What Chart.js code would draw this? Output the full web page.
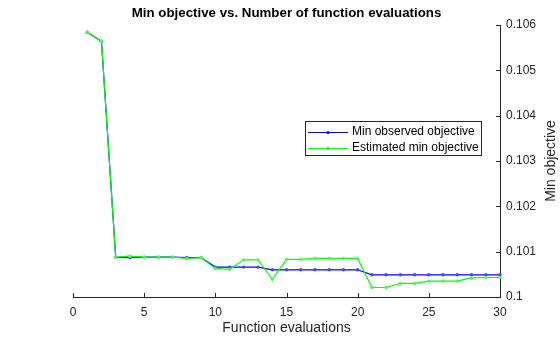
<!DOCTYPE html>
<html>
<head>
<meta charset="utf-8">
<script src="https://cdn.jsdelivr.net/npm/chart.js@4/dist/chart.umd.min.js"></script>
<style>
html,body{margin:0;padding:0;background:#fff;}
#wrap{width:560px;height:337px;}
</style>
</head>
<body>
<div id="wrap"><canvas id="c" width="560" height="337"></canvas></div>
<script>
// ---- data ----
const evaluations = [1,2,3,4,5,6,7,8,9,10,11,12,13,14,15,16,17,18,19,20,21,22,23,24,25,26,27,28,29,30];
const minObserved = [0.10584,0.10564,0.10088,0.10087,0.10088,0.10088,0.10088,0.10087,0.10087,0.10066,
                     0.10066,0.10066,0.10066,0.10060,0.10060,0.10060,0.10060,0.10060,0.10060,0.10060,
                     0.10049,0.10049,0.10049,0.10049,0.10049,0.10049,0.10049,0.10049,0.10049,0.10049];
const estimatedMin = [0.10584,0.10564,0.10088,0.10090,0.10088,0.10088,0.10088,0.10085,0.10087,0.10063,
                      0.10061,0.10082,0.10082,0.10039,0.10083,0.10083,0.10085,0.10085,0.10085,0.10085,
                      0.10021,0.10021,0.10030,0.10030,0.10035,0.10035,0.10035,0.10042,0.10043,0.10043];
const xTicks = [0,5,10,15,20,25,30];
const yTicks = [0.100,0.101,0.102,0.103,0.104,0.105,0.106];
const seriesNames = ['Min observed objective','Estimated min objective'];
const titleText = 'Min objective vs. Number of function evaluations';
const xLabel = 'Function evaluations';
const yLabel = 'Min objective';

const FONT = '"Liberation Sans", Arial, Helvetica, sans-serif';
const AX = '#262626';
const BLUE = '#0000ff';
const GREEN = '#00ff00';

const toPts = (ys) => evaluations.map((x, i) => ({x: x, y: ys[i]}));

const decorPlugin = {
  id: 'decor',
  afterDraw(chart) {
    const ctx = chart.ctx;
    const ca = chart.chartArea;
    const xs = chart.scales.x, ys = chart.scales.y;
    ctx.save();
    // inward ticks
    ctx.strokeStyle = AX;
    ctx.lineWidth = 1;
    ctx.beginPath();
    xs.ticks.forEach(t => {
      const px = Math.round(xs.getPixelForValue(t.value)) + 0.5;
      ctx.moveTo(px, ca.bottom); ctx.lineTo(px, ca.bottom - 4);
    });
    ys.ticks.forEach(t => {
      const py = Math.round(ys.getPixelForValue(t.value)) + 0.5;
      ctx.moveTo(ca.right, py); ctx.lineTo(ca.right - 4, py);
    });
    ctx.stroke();
    // title
    ctx.fillStyle = '#000';
    ctx.font = 'bold 13.3px ' + FONT;
    ctx.textAlign = 'center';
    ctx.textBaseline = 'middle';
    ctx.fillText(titleText, (ca.left + ca.right) / 2, 13.5);
    // y label (reads bottom to top)
    ctx.save();
    ctx.translate(551, (ca.top + ca.bottom) / 2);
    ctx.rotate(-Math.PI / 2);
    ctx.fillStyle = AX;
    ctx.font = '14px ' + FONT;
    ctx.fillText(yLabel, 0, 0);
    ctx.restore();
    // legend
    const lx = 305.5, ly = 121.5, lw = 176, lh = 34;
    ctx.fillStyle = '#fff';
    ctx.fillRect(lx, ly, lw, lh);
    ctx.strokeStyle = AX;
    ctx.strokeRect(lx, ly, lw, lh);
    const cols = [BLUE, GREEN];
    const rows = [ly + 10, ly + 26];
    ctx.font = '12px ' + FONT;
    ctx.textAlign = 'left';
    seriesNames.forEach((name, i) => {
      const y = Math.round(rows[i]) + 0.5;
      ctx.strokeStyle = cols[i];
      ctx.beginPath(); ctx.moveTo(308, y); ctx.lineTo(348, y); ctx.stroke();
      ctx.fillStyle = cols[i];
      ctx.beginPath(); ctx.arc(328, y, 1.6, 0, Math.PI * 2); ctx.fill();
      ctx.fillStyle = '#000';
      ctx.fillText(name, 352, rows[i] + 0.5);
    });
    ctx.restore();
  }
};

new Chart(document.getElementById('c'), {
  type: 'scatter',
  data: {
    datasets: [
      { label: seriesNames[1], data: toPts(estimatedMin), showLine: true, borderColor: GREEN, backgroundColor: GREEN,
        borderWidth: 1.2, pointRadius: 1.7, pointBorderWidth: 0, pointBackgroundColor: '#44ff44', clip: false },
      { label: seriesNames[0], data: toPts(minObserved), showLine: true, borderColor: BLUE, backgroundColor: BLUE,
        borderWidth: 1.2, pointRadius: 1.7, pointBorderWidth: 0, pointBackgroundColor: '#4444ff', clip: false }
    ]
  },
  options: {
    responsive: false,
    devicePixelRatio: 1,
    animation: false,
    layout: { padding: { left: 73, top: 25, right: 0, bottom: 0 } },
    plugins: { legend: { display: false }, tooltip: { enabled: false }, title: { display: false } },
    scales: {
      x: {
        type: 'linear', position: 'bottom', min: 0, max: 30,
        afterBuildTicks: (s) => { s.ticks = xTicks.map(v => ({value: v})); },
        afterFit: (s) => { s.height = 40; },
        grid: { display: false, drawTicks: false },
        border: { display: true, color: AX, width: 1 },
        ticks: { color: AX, font: { family: FONT, size: 12 }, padding: 8, maxRotation: 0,
                 callback: (v) => String(v) },
        title: { display: true, text: xLabel, color: AX, font: { family: FONT, size: 14 }, padding: { top: 0, bottom: 0.5 } }
      },
      y: {
        type: 'linear', position: 'right', min: 0.1, max: 0.106,
        afterBuildTicks: (s) => { s.ticks = yTicks.map(v => ({value: v})); },
        afterFit: (s) => { s.width = 60; },
        grid: { display: false, drawTicks: false },
        border: { display: true, color: AX, width: 1 },
        ticks: { color: AX, font: { family: FONT, size: 12 }, padding: 6,
                 callback: (v) => String(parseFloat(Number(v).toFixed(3))) }
      }
    }
  },
  plugins: [decorPlugin]
});
</script>
</body>
</html>
